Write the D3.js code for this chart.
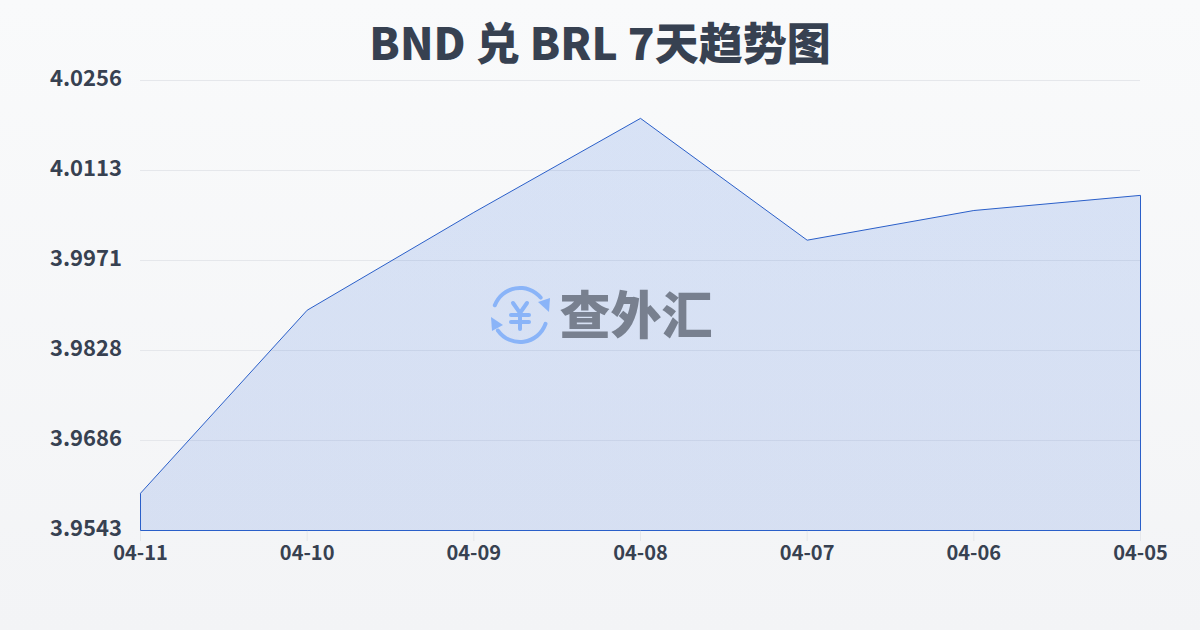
<!DOCTYPE html>
<html><head><meta charset="utf-8">
<script src="https://cdn.jsdelivr.net/npm/d3@7/dist/d3.min.js"></script>
<style>html,body{margin:0;padding:0;width:1200px;height:630px;overflow:hidden}
text{font-family:"Noto Sans CJK SC","Noto Sans",sans-serif}</style></head>
<body><svg id="c" width="1200" height="630"></svg>
<script>
const titleText = "BND 兑 BRL 7天趋势图";
const dates = ["04-11","04-10","04-09","04-08","04-07","04-06","04-05"];
const rates = [3.9602,3.9892,4.0047,4.0196,4.0003,4.0050,4.0074];
const yTickLabels = ["3.9543","3.9686","3.9828","3.9971","4.0113","4.0256"];
const watermarkText = "查外汇";

const svg = d3.select("#c");
const defs = svg.append("defs");
const bg = defs.append("linearGradient").attr("id","bg").attr("x1",0).attr("y1",0).attr("x2",0).attr("y2",1);
bg.append("stop").attr("offset",0).attr("stop-color","#f9fafb");
bg.append("stop").attr("offset",1).attr("stop-color","#f3f4f6");
const af = defs.append("linearGradient").attr("id","af").attr("gradientUnits","userSpaceOnUse")
  .attr("x1",0).attr("y1",118).attr("x2",0).attr("y2",530);
af.append("stop").attr("offset",0).attr("stop-color","#3b74e0").attr("stop-opacity",0.17);
af.append("stop").attr("offset",1).attr("stop-color","#2f66d8").attr("stop-opacity",0.15);

svg.append("rect").attr("width",1200).attr("height",630).attr("fill","url(#bg)");

const x = d3.scalePoint().domain(dates).range([140,1140]);
const yDomain = [+yTickLabels[0], +yTickLabels[yTickLabels.length-1]];
const y = d3.scaleLinear().domain(yDomain).range([530,80]);
const yPos = d3.scaleLinear().domain([0,yTickLabels.length-1]).range([530,80]);

// grid
svg.append("g").selectAll("line").data(yTickLabels).join("line")
  .attr("x1",140).attr("x2",1140)
  .attr("y1",(d,i)=>yPos(i)+0.5).attr("y2",(d,i)=>yPos(i)+0.5)
  .attr("stroke","#e5e7eb").attr("stroke-width",1);

// area + outline
const area = d3.area().x((d,i)=>x(dates[i])).y0(530).y1(d=>y(d));
svg.append("path").datum(rates).attr("d",area).attr("fill","url(#af)")
  .attr("transform","translate(0.5,0.5)")
  .attr("stroke","#2a5fc9").attr("stroke-width",1);

// x ticks
svg.append("g").selectAll("line").data(dates).join("line")
  .attr("x1",d=>x(d)+0.5).attr("x2",d=>x(d)+0.5).attr("y1",531).attr("y2",541)
  .attr("stroke","#e5e7eb");

// y labels
svg.append("g").selectAll("text").data(yTickLabels).join("text")
  .attr("x",122).attr("y",(d,i)=>yPos(i)-1).attr("text-anchor","end")
  .attr("dy","0.32em").attr("font-size",22).attr("font-weight",700).attr("fill","#374151")
  .text(d=>d);

// x labels
svg.append("g").selectAll("text").data(dates).join("text")
  .attr("x",d=>x(d)+0.5).attr("y",560).attr("text-anchor","middle")
  .attr("font-size",20).attr("font-weight",700).attr("fill","#374151")
  .text(d=>d);

// title
svg.append("text").attr("x",600).attr("y",60).attr("text-anchor","middle")
  .attr("font-size",44).attr("font-weight",900).attr("fill","#374151").text(titleText);

// watermark logo
const blue = "#8ab4f8";
const wm = svg.append("g").attr("transform","translate(520,315)");
const arcGen = d3.arc().innerRadius(25).outerRadius(29).cornerRadius(2);
const deg = Math.PI/180;
wm.append("path").attr("d",arcGen({startAngle:-73*deg,endAngle:54*deg})).attr("fill",blue);
wm.append("path").attr("d",arcGen({startAngle:105*deg,endAngle:239*deg})).attr("fill",blue);
wm.append("path").attr("d","M18,-13 L30,-17 L29,-3 Z").attr("fill",blue);
wm.append("path").attr("d","M-29,2 L-17,10 L-28,16 Z").attr("fill",blue);
const yen = wm.append("g").attr("stroke",blue).attr("stroke-width",4).attr("stroke-linecap","round").attr("fill","none");
yen.append("path").attr("d","M-7,-12 L0,-2 L7,-12");
yen.append("path").attr("d","M0,-2 L0,14");
yen.append("path").attr("d","M-9,0 L9,0");
yen.append("path").attr("d","M-9,7 L9,7");
svg.append("text").attr("x",636).attr("y",334).attr("text-anchor","middle")
  .attr("font-size",51).attr("font-weight",900).attr("fill","#78808f").text(watermarkText);
</script></body></html>
